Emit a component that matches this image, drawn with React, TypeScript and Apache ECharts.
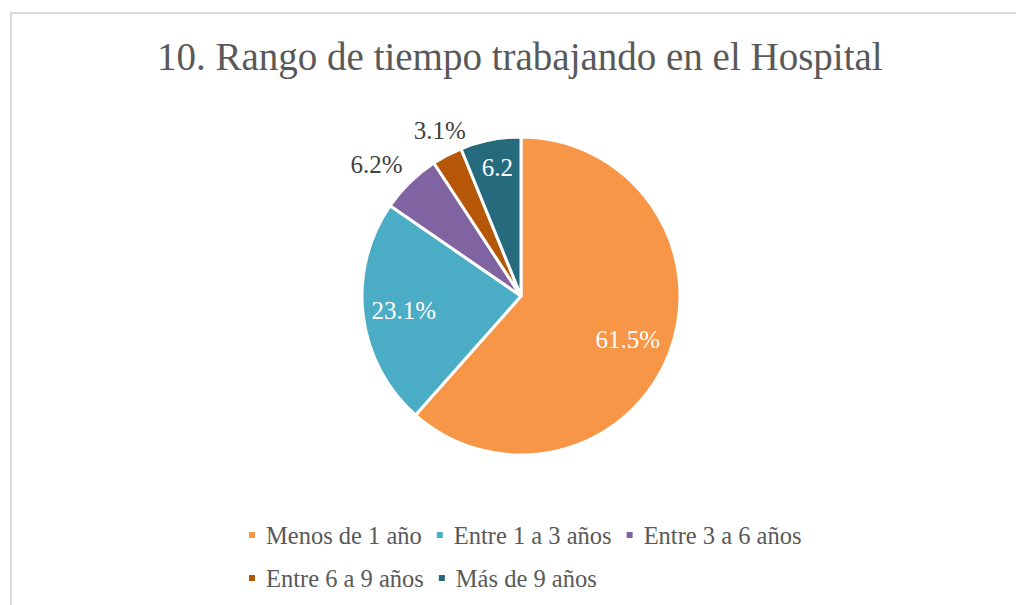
import React, { useEffect, useRef } from "react";
import * as echarts from "echarts";

const categories = ["Menos de 1 año", "Entre 1 a 3 años", "Entre 3 a 6 años", "Entre 6 a 9 años", "Más de 9 años"];
const counts = [40, 15, 4, 2, 4];
const colors = ["#F79646", "#4BACC6", "#8064A2", "#B65708", "#266B7D"];
const labelTexts = ["61.5%", "23.1%", "6.2%", "3.1%", "6.2"];
const labelColors = ["#FFFFFF", "#FFFFFF", "#404040", "#404040", "#FFFFFF"];
// label distance from centre, as a fraction of the pie radius, and fine offsets
const labelRadii = [0.7, 0.73, 1.22, 1.16, 0.82];
const labelOffsets = [[0, 3], [1, 0], [-7, 9], [6, 0], [2, 2]];

const FONT = "'Liberation Serif', serif";

export default function App() {
  const ref = useRef<HTMLDivElement>(null);
  useEffect(() => {
    const chart = echarts.init(ref.current!, null, { renderer: "svg" });
    const R = 159;
    const center = [521, 296];
    const mainData = categories.map((name, i) => ({ name, value: counts[i], itemStyle: { color: colors[i] } }));
    const labelSeries = categories.map((_, k) => ({
      type: "pie",
      silent: true,
      center,
      radius: [0, 2 * labelRadii[k] * R],
      startAngle: 90,
      clockwise: true,
      z: 5,
      labelLine: { show: false },
      itemStyle: { color: "rgba(0,0,0,0)", borderWidth: 0 },
      emphasis: { disabled: true },
      data: categories.map((name, i) => ({
        name,
        value: counts[i],
        itemStyle: { color: "rgba(0,0,0,0)" },
        label: {
          show: i === k,
          position: "inside",
          formatter: labelTexts[i],
          color: labelColors[i],
          fontSize: 25,
          fontFamily: FONT,
          offset: labelOffsets[i],
        },
      })),
    }));
    chart.setOption({
      animation: false,
      title: {
        text: "10. Rango de tiempo trabajando en el Hospital",
        left: 152,
        top: 32,
        textStyle: { fontFamily: FONT, fontSize: 39, fontWeight: "normal", color: "#595959" },
      },
      graphic: [
        {
          type: "rect",
          shape: { x: 11, y: 13, width: 1200, height: 800 },
          style: { fill: "none", stroke: "#D9D9D9", lineWidth: 2 },
          silent: true,
        },
      ],
      legend: {
        data: categories,
        left: 242,
        top: 515,
        width: 600,
        orient: "horizontal",
        icon: "rect",
        itemWidth: 8,
        itemHeight: 8,
        itemGap: 13,
        textStyle: { fontFamily: FONT, fontSize: 24.5, color: "#595959", lineHeight: 30, padding: [0, 0, 0, 5] },
      },
      series: [
        {
          type: "pie",
          center,
          radius: [0, R],
          startAngle: 90,
          clockwise: true,
          label: { show: false },
          labelLine: { show: false },
          itemStyle: { borderColor: "#FFFFFF", borderWidth: 3 },
          emphasis: { disabled: true },
          data: mainData,
        },
        ...labelSeries,
      ],
    });
    return () => chart.dispose();
  }, []);
  return <div ref={ref} style={{ position: "fixed", left: 0, top: 0, width: 1016, height: 605, background: "#fff" }} />;
}
